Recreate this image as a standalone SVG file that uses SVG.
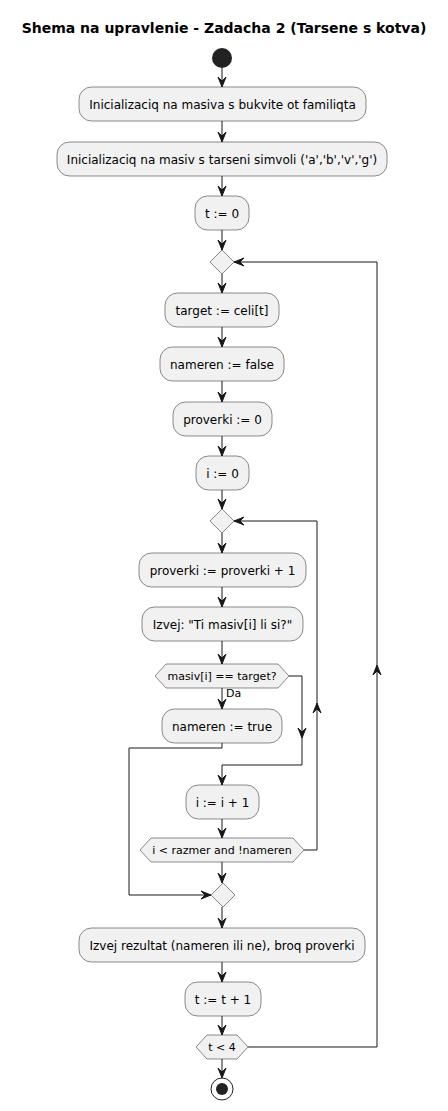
<svg xmlns="http://www.w3.org/2000/svg" width="448" height="1111" viewBox="0 0 448 1111">
  <style>
    .box { fill: #F1F1F1; stroke: #181818; stroke-width: 0.5; }
    .dia { fill: #F1F1F1; stroke: #181818; stroke-width: 0.5; }
    .t { font-family: "DejaVu Sans", "Liberation Sans", sans-serif; font-size: 12px; fill: #000; text-anchor: middle; }
    .ht { font-family: "DejaVu Sans", "Liberation Sans", sans-serif; font-size: 11px; fill: #000; text-anchor: middle; }
    .lbl { font-family: "DejaVu Sans", "Liberation Sans", sans-serif; font-size: 11px; fill: #000; }
    .title { font-family: "DejaVu Sans", "Liberation Sans", sans-serif; font-size: 14px; font-weight: bold; fill: #000; text-anchor: middle; }
    .ln { fill: none; stroke: #181818; stroke-width: 1; }
    .ah { fill: #181818; stroke: #181818; stroke-width: 1; }
  </style>
  <defs>
    <marker id="arr" markerUnits="userSpaceOnUse" viewBox="-11 -5 12 10" refX="0" refY="0" markerWidth="12" markerHeight="10" orient="auto" overflow="visible">
      <path d="M0,0 L-10,-4 L-6,0 L-10,4 Z" class="ah"/>
    </marker>
  </defs>

  <rect width="448" height="1111" fill="#FFFFFF"/>

  <text class="title" x="224" y="33">Shema na upravlenie - Zadacha 2 (Tarsene s kotva)</text>

  <!-- connectors -->
  <g id="connectors">
    <path class="ln" d="M222,68 L222,87" marker-end="url(#arr)"/>
    <path class="ln" d="M222,121 L222,142" marker-end="url(#arr)"/>
    <path class="ln" d="M222,176 L222,196" marker-end="url(#arr)"/>
    <path class="ln" d="M222,230 L222,250" marker-end="url(#arr)"/>
    <path class="ln" d="M222,274 L222,293" marker-end="url(#arr)"/>
    <path class="ln" d="M222,327 L222,347" marker-end="url(#arr)"/>
    <path class="ln" d="M222,381 L222,402" marker-end="url(#arr)"/>
    <path class="ln" d="M222,436 L222,456" marker-end="url(#arr)"/>
    <path class="ln" d="M222,490 L222,509" marker-end="url(#arr)"/>
    <path class="ln" d="M222,533 L222,553" marker-end="url(#arr)"/>
    <path class="ln" d="M222,587 L222,607" marker-end="url(#arr)"/>
    <path class="ln" d="M222,641 L222,664" marker-end="url(#arr)"/>
    <!-- Da branch -->
    <path class="ln" d="M222,688 L222,709" marker-end="url(#arr)"/>
    <text class="lbl" x="226" y="697">Da</text>
    <!-- else branch of masiv[i] == target? -->
    <path class="ln" d="M289,676 L302,676 L302,738" marker-end="url(#arr)"/>
    <path class="ln" d="M302,738 L302,765 L222,765 L222,785" marker-end="url(#arr)"/>
    <!-- found: leave inner loop -->
    <path class="ln" d="M222,743 L222,748 L129,748 L129,895 L211,895" marker-end="url(#arr)"/>
    <path class="ln" d="M222,819 L222,838" marker-end="url(#arr)"/>
    <!-- inner loop back edge -->
    <path class="ln" d="M304,850 L317,850 L317,703" marker-end="url(#arr)"/>
    <path class="ln" d="M317,703 L317,521 L234,521" marker-end="url(#arr)"/>
    <path class="ln" d="M222,862 L222,883" marker-end="url(#arr)"/>
    <path class="ln" d="M222,907 L222,928" marker-end="url(#arr)"/>
    <path class="ln" d="M222,962 L222,982" marker-end="url(#arr)"/>
    <path class="ln" d="M222,1016 L222,1035" marker-end="url(#arr)"/>
    <!-- outer loop back edge -->
    <path class="ln" d="M248,1047 L377,1047 L377,665" marker-end="url(#arr)"/>
    <path class="ln" d="M377,665 L377,262 L234,262" marker-end="url(#arr)"/>
    <path class="ln" d="M222,1059 L222,1078" marker-end="url(#arr)"/>
  </g>

  <g id="start"><circle cx="222" cy="58" r="10" fill="#222222"/></g>

  <g id="init-familiqta"><rect class="box" x="79" y="87" width="287" height="34" rx="12.5"/><text class="t" x="222.5" y="108.5">Inicializaciq na masiva s bukvite ot familiqta</text></g>
  <g id="init-simvoli"><rect class="box" x="57" y="142" width="330" height="34" rx="12.5"/><text class="t" x="222" y="163.5">Inicializaciq na masiv s tarseni simvoli ('a','b','v','g')</text></g>
  <g id="t-zero"><rect class="box" x="195" y="196" width="54" height="34" rx="12.5"/><text class="t" x="222" y="217.5">t := 0</text></g>
  <g id="outer-loop"><polygon class="dia" points="222,250 234,262 222,274 210,262"/></g>
  <g id="target"><rect class="box" x="165" y="293" width="114" height="34" rx="12.5"/><text class="t" x="222" y="314.5">target := celi[t]</text></g>
  <g id="nameren-false"><rect class="box" x="160" y="347" width="124" height="34" rx="12.5"/><text class="t" x="222" y="368.5">nameren := false</text></g>
  <g id="proverki-zero"><rect class="box" x="173" y="402" width="99" height="34" rx="12.5"/><text class="t" x="222.5" y="423.5">proverki := 0</text></g>
  <g id="i-zero"><rect class="box" x="196" y="456" width="53" height="34" rx="12.5"/><text class="t" x="222.5" y="477.5">i := 0</text></g>
  <g id="inner-loop"><polygon class="dia" points="222,509 234,521 222,533 210,521"/></g>
  <g id="proverki-inc"><rect class="box" x="139" y="553" width="167" height="34" rx="12.5"/><text class="t" x="222.5" y="574.5">proverki := proverki + 1</text></g>
  <g id="ask"><rect class="box" x="142" y="607" width="161" height="34" rx="12.5"/><text class="t" x="222.5" y="628.5">Izvej: "Ti masiv[i] li si?"</text></g>
  <g id="check-target"><polygon class="dia" points="155,676 166,664 278,664 289,676 278,688 166,688"/><text class="ht" x="222" y="680">masiv[i] == target?</text></g>
  <g id="nameren-true"><rect class="box" x="162" y="709" width="120" height="34" rx="12.5"/><text class="t" x="222" y="730.5">nameren := true</text></g>
  <g id="i-inc"><rect class="box" x="186" y="785" width="73" height="34" rx="12.5"/><text class="t" x="222.5" y="806.5">i := i + 1</text></g>
  <g id="inner-cond"><polygon class="dia" points="140,850 151,838 293,838 304,850 293,862 151,862"/><text class="ht" x="222" y="854">i &lt; razmer and !nameren</text></g>
  <g id="merge"><polygon class="dia" points="223,883 235,895 223,907 211,895"/></g>
  <g id="print-result"><rect class="box" x="79" y="928" width="286" height="34" rx="12.5"/><text class="t" x="222" y="949.5">Izvej rezultat (nameren ili ne), broq proverki</text></g>
  <g id="t-inc"><rect class="box" x="185" y="982" width="76" height="34" rx="12.5"/><text class="t" x="223" y="1003.5">t := t + 1</text></g>
  <g id="outer-cond"><polygon class="dia" points="196,1047 207,1035 237,1035 248,1047 237,1059 207,1059"/><text class="ht" x="222" y="1051">t &lt; 4</text></g>
  <g id="stop"><circle cx="222" cy="1089" r="11" fill="none" stroke="#222222" stroke-width="1"/><circle cx="222" cy="1089" r="6" fill="#222222"/></g>
</svg>
